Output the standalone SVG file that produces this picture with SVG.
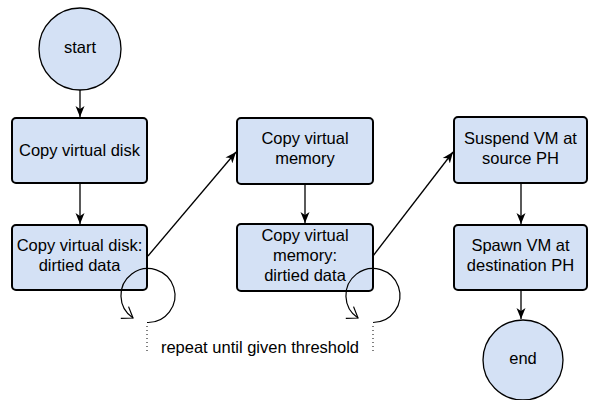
<svg xmlns="http://www.w3.org/2000/svg" width="589" height="400" viewBox="0 0 589 400">
  <style>
    .box { fill: #d4e1f5; stroke: #000; stroke-width: 2; }
    .term { fill: #d4e1f5; stroke: #000; stroke-width: 1.3; }
    .lbl { font-family: "Liberation Sans", Arial, sans-serif; font-size: 16.5px; fill: #000; text-anchor: middle; }
    .edge { fill: none; stroke: #000; stroke-width: 1.3; }
    .loop { fill: none; stroke: #000; stroke-width: 1.2; }
    .dots { fill: none; stroke: #000; stroke-width: 1; stroke-dasharray: 1 3; }
  </style>
  <defs>
    <marker id="arrow" markerUnits="userSpaceOnUse" markerWidth="12" markerHeight="10" refX="11" refY="5" orient="auto">
      <path d="M0,0.5 L11,5 L0,9.5 L3,5 Z" fill="#000"/>
    </marker>
    <marker id="open" markerUnits="userSpaceOnUse" markerWidth="16" markerHeight="16" refX="13" refY="8" orient="auto">
      <path d="M3,1 L13,8 L3,15" fill="none" stroke="#000" stroke-width="1.2"/>
    </marker>
  </defs>

  <!-- connectors -->
  <g id="edges">
    <line class="edge" x1="80" y1="90" x2="80" y2="117" marker-end="url(#arrow)"/>
    <line class="edge" x1="80" y1="183" x2="80" y2="224" marker-end="url(#arrow)"/>
    <line class="edge" x1="148" y1="256" x2="236" y2="152" marker-end="url(#arrow)"/>
    <line class="edge" x1="305" y1="184" x2="305" y2="223" marker-end="url(#arrow)"/>
    <line class="edge" x1="373" y1="256" x2="453" y2="152" marker-end="url(#arrow)"/>
    <line class="edge" x1="521" y1="183" x2="521" y2="224" marker-end="url(#arrow)"/>
    <line class="edge" x1="521" y1="290" x2="521" y2="319" marker-end="url(#arrow)"/>
  </g>

  <!-- nodes -->
  <g id="start">
    <circle class="term" cx="80" cy="49" r="41"/>
    <text class="lbl" x="80" y="53">start</text>
  </g>
  <g id="copy-disk">
    <rect class="box" x="12" y="118" width="135" height="65" rx="4"/>
    <text class="lbl" x="79.5" y="156">Copy virtual disk</text>
  </g>
  <g id="copy-disk-dirty">
    <rect class="box" x="12" y="225" width="135" height="65" rx="4"/>
    <text class="lbl" x="79.5" y="251">Copy virtual disk:</text>
    <text class="lbl" x="79.5" y="271">dirtied data</text>
  </g>
  <g id="copy-mem">
    <rect class="box" x="237" y="118" width="136" height="66" rx="4"/>
    <text class="lbl" x="305" y="144">Copy virtual</text>
    <text class="lbl" x="305" y="164">memory</text>
  </g>
  <g id="copy-mem-dirty">
    <rect class="box" x="237" y="224" width="136" height="67" rx="4"/>
    <text class="lbl" x="305" y="241">Copy virtual</text>
    <text class="lbl" x="305" y="261">memory:</text>
    <text class="lbl" x="305" y="281">dirtied data</text>
  </g>
  <g id="suspend">
    <rect class="box" x="454" y="117" width="133" height="66" rx="4"/>
    <text class="lbl" x="520.5" y="144">Suspend VM at</text>
    <text class="lbl" x="520.5" y="164">source PH</text>
  </g>
  <g id="spawn">
    <rect class="box" x="454" y="225" width="133" height="65" rx="4"/>
    <text class="lbl" x="520.5" y="251">Spawn VM at</text>
    <text class="lbl" x="520.5" y="271">destination PH</text>
  </g>
  <g id="end">
    <circle class="term" cx="523" cy="360" r="40"/>
    <text class="lbl" x="523" y="364">end</text>
  </g>

  <!-- repeat loops -->
  <g id="loops">
    <path class="loop" d="M147,322.5 A27,27 0 1 0 133,318" marker-end="url(#open)"/>
    <path class="loop" d="M373,322.5 A27,27 0 1 0 358,318" marker-end="url(#open)"/>
    <line class="dots" x1="147" y1="326" x2="147" y2="354"/>
    <line class="dots" x1="373" y1="326" x2="373" y2="354"/>
    <text class="lbl" x="260" y="353">repeat until given threshold</text>
  </g>
</svg>
